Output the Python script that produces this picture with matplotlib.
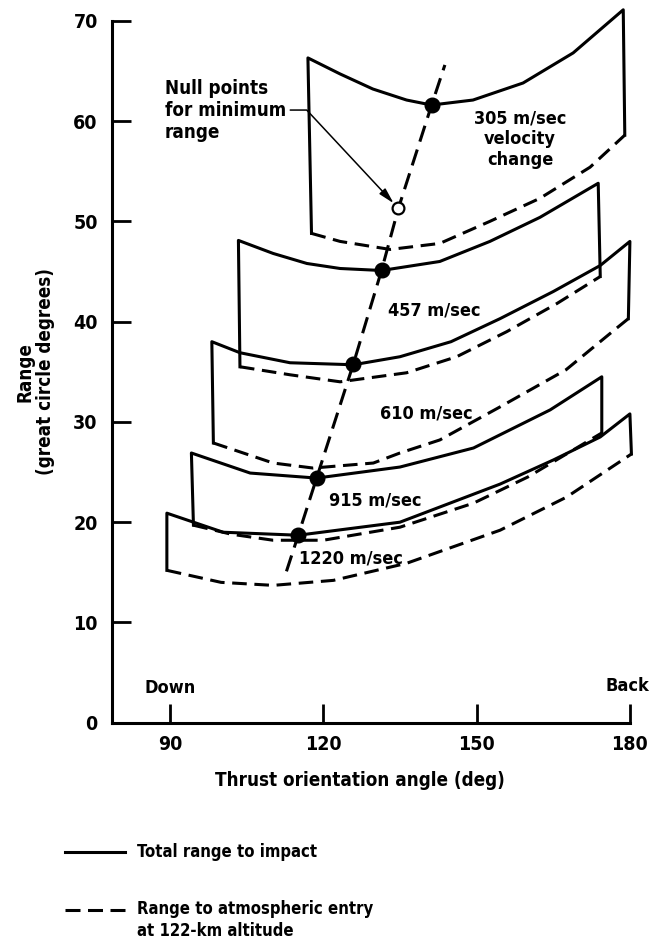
import matplotlib
matplotlib.use("Agg")
import matplotlib.pyplot as plt
from matplotlib.lines import Line2D

plt.rcParams['font.family'] = ['DejaVu Sans']
plt.rcParams['font.stretch'] = 'condensed'
plt.rcParams['font.weight'] = 'bold'
plt.rcParams['axes.labelweight'] = 'bold'
plt.rcParams['lines.scale_dashes'] = False

# --- data (thrust angle in deg, range in great-circle deg) ---
bands = ['305', '457', '610', '915', '1220']

# total range to impact (solid)
solid_x = {
    '305':  [117.0, 123.3, 129.7, 136.3, 141.2, 149.3, 159.1, 168.9, 178.7],
    '457':  [103.4, 110.2, 116.8, 123.3, 131.4, 142.8, 152.6, 162.4, 173.8],
    '610':  [98.2, 103.7, 113.5, 125.9, 135.0, 145.0, 154.6, 165.0, 174.2, 180.0],
    '915':  [94.2, 105.7, 118.7, 135.0, 149.4, 164.4, 174.5],
    '1220': [89.4, 100.4, 115.1, 135.0, 154.6, 165.0, 174.2, 180.0],
}
solid_y = {
    '305':  [66.3, 64.7, 63.2, 62.1, 61.6, 62.1, 63.8, 66.8, 71.1],
    '457':  [48.1, 46.8, 45.8, 45.3, 45.1, 46.0, 48.0, 50.4, 53.8],
    '610':  [38.0, 36.9, 35.9, 35.7, 36.5, 38.0, 40.3, 43.0, 45.6, 48.0],
    '915':  [26.9, 24.9, 24.4, 25.5, 27.4, 31.2, 34.5],
    '1220': [20.9, 19.0, 18.7, 20.0, 23.8, 26.2, 28.5, 30.8],
}

# range to atmospheric entry (dashed)
dash_x = {
    '305':  [117.7, 123.3, 133.1, 142.8, 152.6, 162.4, 172.2, 179.0],
    '457':  [103.7, 113.5, 123.3, 136.3, 146.1, 155.9, 165.7, 174.2],
    '610':  [98.5, 110.2, 118.0, 129.8, 135.0, 142.8, 154.6, 167.5, 176.8, 179.7],
    '915':  [94.6, 102.0, 110.2, 120.0, 135.0, 149.4, 160.0, 174.5],
    '1220': [89.4, 100.0, 110.2, 122.0, 136.3, 154.6, 167.6, 180.3],
}
dash_y = {
    '305':  [48.8, 48.0, 47.2, 47.8, 50.0, 52.3, 55.4, 58.6],
    '457':  [35.5, 34.7, 34.0, 34.9, 36.5, 39.0, 41.8, 44.5],
    '610':  [27.9, 25.9, 25.4, 25.9, 26.9, 28.2, 31.5, 35.2, 39.1, 40.3],
    '915':  [19.7, 18.8, 18.2, 18.2, 19.5, 21.9, 24.5, 28.9],
    '1220': [15.2, 14.0, 13.7, 14.2, 15.9, 19.2, 22.5, 26.8],
}

# null points for minimum range
null_x = [112.8, 115.1, 118.7, 125.9, 131.4, 134.7, 141.2, 143.8]
null_y = [15.1, 18.7, 24.4, 35.8, 45.1, 51.3, 61.6, 65.6]
dot_x = [115.1, 118.7, 125.9, 131.4, 141.2]
dot_y = [18.7, 24.4, 35.8, 45.1, 61.6]
open_x, open_y = 134.7, 51.3

band_labels = {
    '305':  ('305 m/sec\nvelocity\nchange', 158.5, 58.2),
    '457':  ('457 m/sec', 141.7, 41.1),
    '610':  ('610 m/sec', 140.2, 30.8),
    '915':  ('915 m/sec', 130.1, 22.2),
    '1220': ('1220 m/sec', 125.4, 16.4),
}

fig = plt.figure(figsize=(6.5, 9.46), dpi=100)
ax = fig.add_axes([0.1718, 0.236, 0.813, 0.742])

lw = 2.2
dash = (10.5, 5.5)
for b in bands:
    sx, sy = solid_x[b], solid_y[b]
    dx, dy = dash_x[b], dash_y[b]
    # solid outline: left edge up, total-range curve, right edge down
    ax.plot([dx[0]] + sx + [dx[-1]], [dy[0]] + sy + [dy[-1]],
            color='black', lw=lw, solid_joinstyle='round', clip_on=False)
    ax.plot(dx, dy, color='black', lw=lw, linestyle=(0, dash), clip_on=False)
    txt, tx, ty = band_labels[b]
    ax.text(tx, ty, txt, ha='center', va='center', fontsize=13,
            linespacing=1.2)

ax.plot(null_x, null_y, color='black', lw=lw, linestyle=(0, (12, 6)), clip_on=False)
ax.plot(dot_x, dot_y, 'o', color='black', markersize=10.5, clip_on=False)
ax.plot([open_x], [open_y], 'o', mfc='white', mec='black', mew=1.6,
        markersize=8.5, clip_on=False, zorder=5)

ax.annotate('Null points\nfor minimum\nrange', xy=(open_x, open_y),
            xytext=(89.0, 61.1), ha='left', va='center', fontsize=13.5,
            linespacing=1.2,
            arrowprops=dict(arrowstyle='-|>,head_length=0.7,head_width=0.18',
                            color='black', lw=1.1, relpos=(1, 0.5),
                            shrinkA=1, shrinkB=5,
                            connectionstyle='angle,angleA=0,angleB=133,rad=0'))

ax.text(90, 3.5, 'Down', ha='center', va='center', fontsize=13)
ax.text(179.5, 3.7, 'Back', ha='center', va='center', fontsize=13)

# axes styling
ax.set_xlim(78.6, 182)
ax.set_ylim(0, 70)
ax.spines['top'].set_visible(False)
ax.spines['right'].set_visible(False)
for s in ('left', 'bottom'):
    ax.spines[s].set_linewidth(2.2)
ax.spines['bottom'].set_bounds(78.6, 180)
ax.spines['left'].set_bounds(0, 70)
ax.set_xticks([90, 120, 150, 180])
ax.set_yticks(range(0, 71, 10))
ax.tick_params(direction='in', length=14, width=2.0, labelsize=14)
ax.tick_params(axis='x', pad=9)
ax.tick_params(axis='y', pad=10)

ax.set_xlabel('Thrust orientation angle (deg)', fontsize=13.5)
ax.xaxis.set_label_coords(0.47, -0.069)
ax.set_ylabel('Range\n(great circle degrees)', fontsize=13.5, linespacing=1.1)
ax.yaxis.set_label_coords(-0.107, 0.5)

# legend drawn below the axes
fig.add_artist(Line2D([0.1, 0.192], [0.0997, 0.0997], color='black', lw=2.2))
fig.add_artist(Line2D([0.1, 0.192], [0.038, 0.038], color='black', lw=2.2,
                      linestyle=(0, (10.8, 5.4))))
fig.text(0.2108, 0.0997, 'Total range to impact', ha='left', va='center', fontsize=12)
fig.text(0.2108, 0.0486, 'Range to atmospheric entry\nat 122-km altitude',
         ha='left', va='top', fontsize=12, linespacing=1.28)

fig.savefig('out.png', dpi=100)
